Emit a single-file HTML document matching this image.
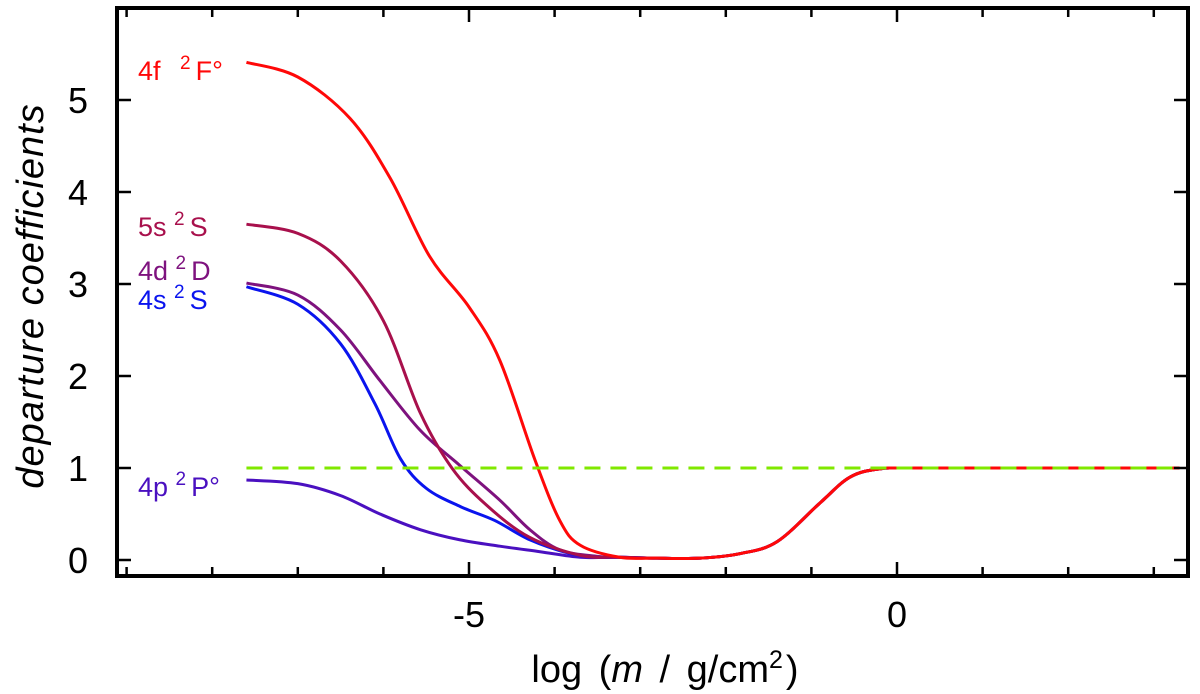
<!DOCTYPE html>
<html><head><meta charset="utf-8"><style>
body{margin:0;background:#fff}
svg{display:block;font-family:"Liberation Sans",sans-serif}
</style></head><body>
<svg id="chart" width="1200" height="694" viewBox="0 0 1200 694" xmlns="http://www.w3.org/2000/svg"></svg>
<script>
const xTicks=[-9,-8,-7,-6,-5,-4,-3,-2,-1,0,1,2,3];
const xTickLabels=[-5,0];
const yTicks=[0,1,2,3,4,5];
const tail=[[-3.24,0.03],[-2.8,0.02],[-2.3,0.02],[-1.83,0.07],[-1.4,0.2],[-0.9,0.62],[-0.55,0.9],[-0.2,0.99],[0.3,1.0],[3.3,1.0]];
const s4f=[[-7.6,5.41],[-7.0,5.25],[-6.39,4.8],[-5.92,4.15],[-5.46,3.3],[-5.0,2.75],[-4.64,2.17],[-4.23,1.09],[-3.94,0.43],[-3.7,0.16]];
const s5s=[[-7.6,3.65],[-7.0,3.55],[-6.5,3.25],[-6.0,2.6],[-5.57,1.6],[-5.2,1.0],[-4.8,0.6],[-4.3,0.25],[-3.7,0.05]];
const s4d=[[-7.6,3.01],[-7.0,2.88],[-6.5,2.5],[-6.04,1.95],[-5.57,1.41],[-5.11,1.03],[-4.64,0.65],[-4.29,0.33],[-3.94,0.11],[-3.5,0.04]];
const s4s=[[-7.6,2.97],[-7.0,2.78],[-6.5,2.35],[-6.1,1.7],[-5.8,1.1],[-5.5,0.78],[-5.1,0.58],[-4.7,0.43],[-4.29,0.22],[-3.82,0.07],[-3.5,0.03]];
const s4p=[[-7.6,0.87],[-7.0,0.83],[-6.5,0.7],[-6.04,0.5],[-5.57,0.33],[-5.11,0.22],[-4.64,0.15],[-4.17,0.09],[-3.7,0.03]];
const seriesNames=["4p","4s","4d","5s","4f"];
const seriesData=[s4p,s4s,s4d,s5s,s4f];
const seriesColors=["#4a10c0","#0a14ee","#7e127e","#a8104c","#ff0808"];
const refValue=1;
const NS="http://www.w3.org/2000/svg";
const svg=document.getElementById('chart');
const X0=117,X1=1188,Y0=8,Y1=576;
const xs=v=>897+(v)*85.6;
const ys=v=>560-v*92;
function el(t,a,p){const e=document.createElementNS(NS,t);for(const k in a)e.setAttribute(k,a[k]);(p||svg).appendChild(e);return e;}
function pathOf(pts){
  const P=pts.map(p=>[xs(p[0]),ys(p[1])]);
  let d="M"+P[0][0]+","+P[0][1];
  for(let i=0;i<P.length-1;i++){
    const p0=P[i-1]||P[i],p1=P[i],p2=P[i+1],p3=P[i+2]||p2;
    const c1=[p1[0]+(p2[0]-p0[0])/6,p1[1]+(p2[1]-p0[1])/6];
    const c2=[p2[0]-(p3[0]-p1[0])/6,p2[1]-(p3[1]-p1[1])/6];
    d+=" C"+c1+" "+c2+" "+p2;
  }
  return d;
}
seriesData.forEach((s,i)=>{
  const pts=s.concat(tail.filter(t=>t[0]>s[s.length-1][0]));
  const p=el('path',{d:pathOf(pts),fill:'none',stroke:seriesColors[i],'stroke-width':3});
  
  
});
const rl=el('line',{x1:xs(-7.6),x2:xs(3.3),y1:ys(refValue),y2:ys(refValue),stroke:'#80e800','stroke-width':3,'stroke-dasharray':'16,10'});


const fr=el('rect',{x:X0,y:Y0,width:X1-X0,height:Y1-Y0,fill:'none',stroke:'#000','stroke-width':4});


xTicks.forEach(v=>{
  const L=(v%5===0)?14:9;
  const t1=el('line',{x1:xs(v),x2:xs(v),y1:Y1,y2:Y1-L,stroke:'#000','stroke-width':2.5});
  
  
  const t2=el('line',{x1:xs(v),x2:xs(v),y1:Y0,y2:Y0+L,stroke:'#000','stroke-width':2.5});
  
  
});
xTickLabels.forEach(v=>{
  const t=el('text',{x:xs(v),y:627,'font-size':36,'text-anchor':'middle'});t.textContent=v;
  
  
});
yTicks.forEach(v=>{
  const t1=el('line',{x1:X0,x2:X0+14,y1:ys(v),y2:ys(v),stroke:'#000','stroke-width':2.5});
  
  
  const t2=el('line',{x1:X1,x2:X1-14,y1:ys(v),y2:ys(v),stroke:'#000','stroke-width':2.5});
  
  
  const t=el('text',{x:88,y:ys(v)+13,'font-size':36,'text-anchor':'end'});t.textContent=v;
  
  
});
</script>
<svg style="position:absolute;left:0;top:0" width="1200" height="694" xmlns="http://www.w3.org/2000/svg">
<g font-family="Liberation Sans, sans-serif" font-size="27">
<text x="138" y="80" fill="#ff0808">4f <tspan dx="12" dy="-11" font-size="19">2</tspan><tspan dx="5" dy="11">F°</tspan></text>
<text x="138" y="236" fill="#a8104c">5s <tspan dy="-11" font-size="19">2</tspan><tspan dx="5" dy="11">S</tspan></text>
<text x="138" y="280" fill="#7e127e">4d <tspan dy="-11" font-size="19">2</tspan><tspan dx="5" dy="11">D</tspan></text>
<text x="138" y="309" fill="#0a14ee">4s <tspan dy="-11" font-size="19">2</tspan><tspan dx="5" dy="11">S</tspan></text>
<text x="138" y="496" fill="#4a10c0">4p <tspan dy="-11" font-size="19">2</tspan><tspan dx="5" dy="11">P°</tspan></text>
</g>
<text x="665" y="682" font-family="Liberation Sans, sans-serif" font-size="38" word-spacing="6" text-anchor="middle">log (<tspan font-style="italic">m</tspan> / g/cm<tspan dy="-14" font-size="25">2</tspan><tspan dx="3" dy="14">)</tspan></text>
<text transform="translate(43,296) rotate(-90)" font-family="Liberation Sans, sans-serif" font-size="38" font-style="italic" letter-spacing="1" text-anchor="middle">departure coefficients</text>
</svg>
</body></html>
